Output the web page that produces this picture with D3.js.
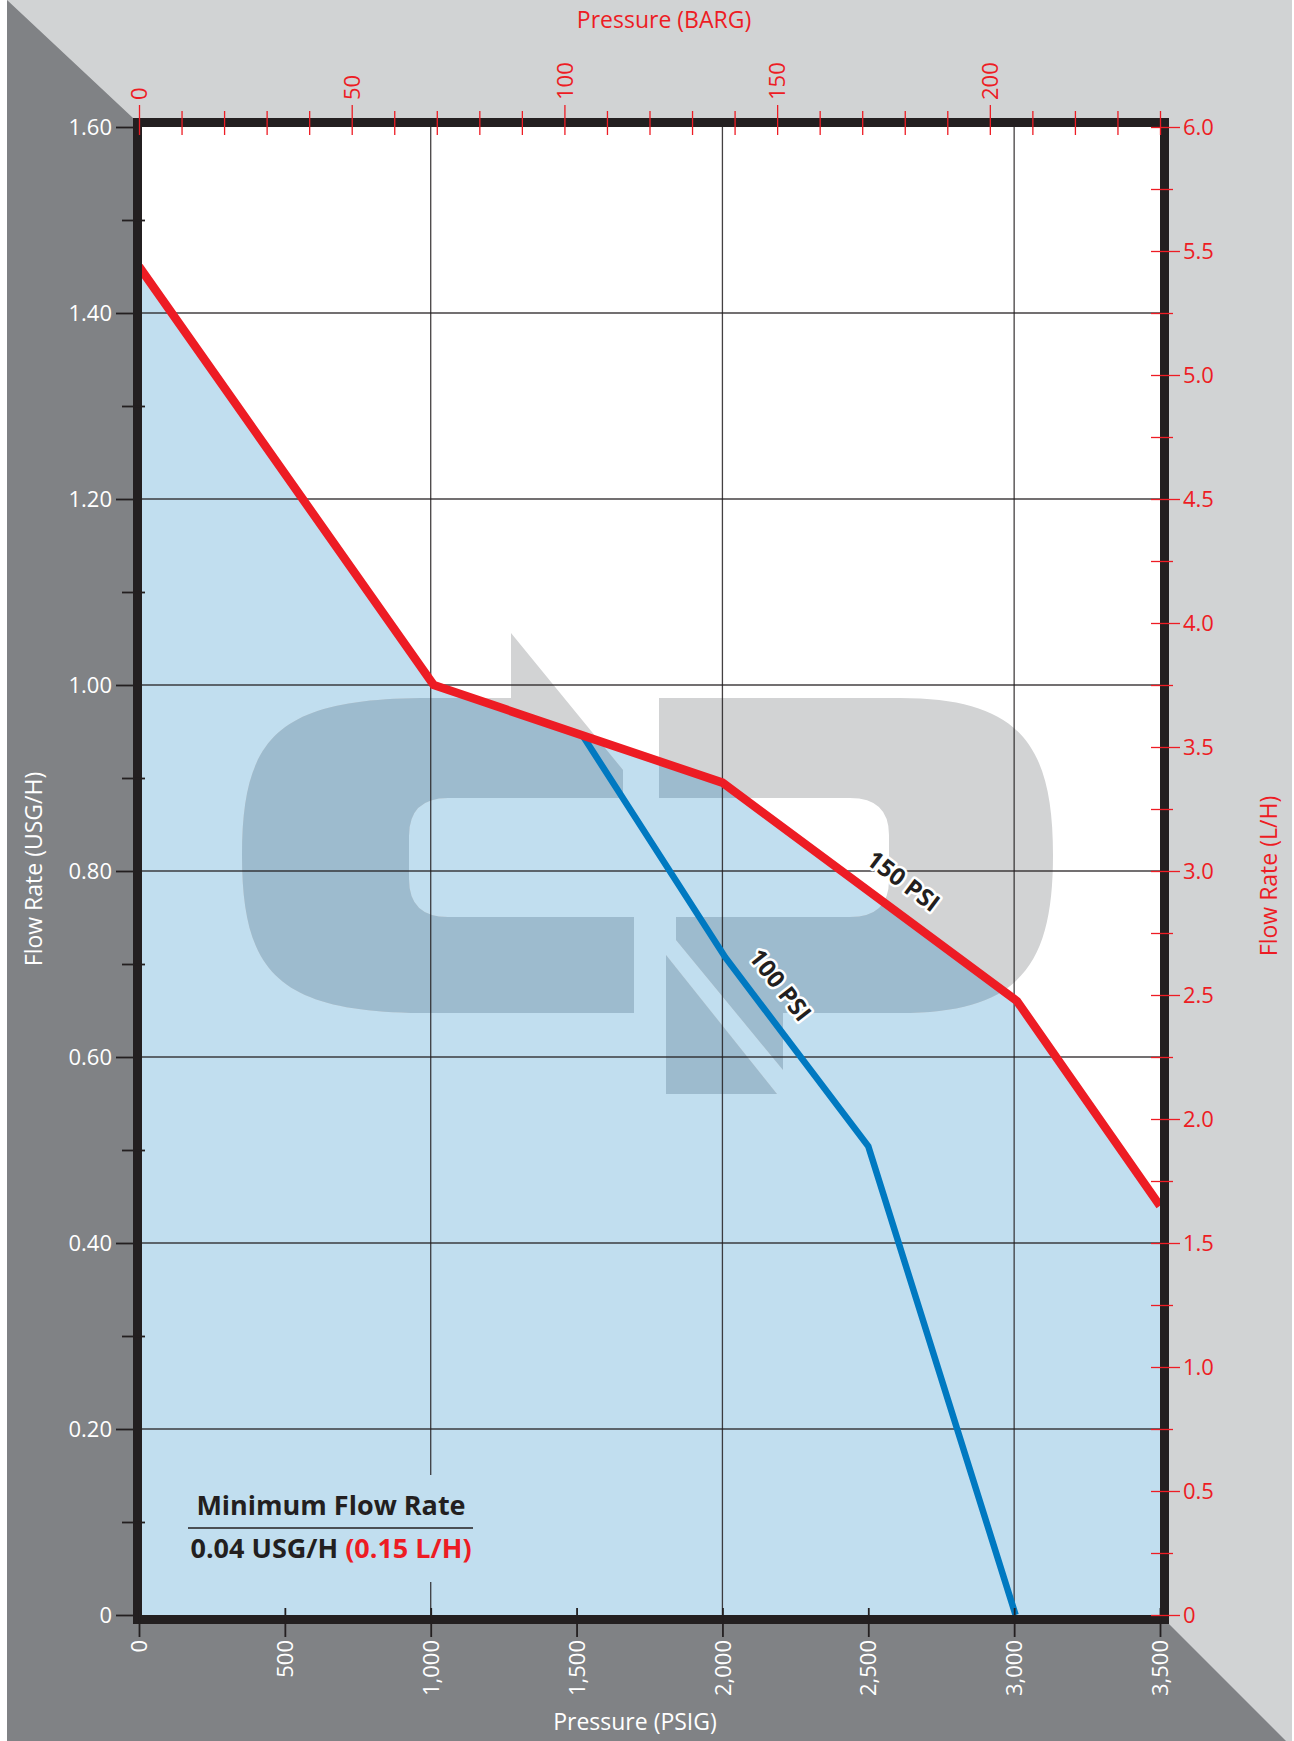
<!DOCTYPE html>
<html>
<head>
<meta charset="utf-8">
<script src="https://cdn.jsdelivr.net/npm/d3@7"></script>
<style>
  body { margin: 0; background: #fff; }
  svg { display: block; font-family: 'Open Sans', sans-serif; }
</style>
</head>
<body>
<div id="chart"></div>
<script>
// flow curves, pressure in PSIG and flow in USG/H
const psi150 = [0, 1010, 2000, 3010, 3500];
const flow150 = [1.45, 1.0, 0.895, 0.66, 0.44];
const psi100 = [0, 1010, 1520, 2010, 2500, 3005];
const flow100 = [1.45, 1.0, 0.946, 0.707, 0.504, 0];

const psiTicks = [0, 500, 1000, 1500, 2000, 2500, 3000, 3500];
const psiGrid = [1000, 2000, 3000];
const usgTicks = [0, 0.2, 0.4, 0.6, 0.8, 1.0, 1.2, 1.4, 1.6];
const usgGrid = [0.2, 0.4, 0.6, 0.8, 1.0, 1.2, 1.4];
const usgMinor = [0.1, 0.3, 0.5, 0.7, 0.9, 1.1, 1.3, 1.5];
const lphTicks = [0, 0.5, 1.0, 1.5, 2.0, 2.5, 3.0, 3.5, 4.0, 4.5, 5.0, 5.5, 6.0];
const lphMinor = [0.25, 0.75, 1.25, 1.75, 2.25, 2.75, 3.25, 3.75, 4.25, 4.75, 5.25, 5.75];
const bargTicks = [0, 50, 100, 150, 200];
const bargMinor = [10, 20, 30, 40, 60, 70, 80, 90, 110, 120, 130, 140, 160, 170, 180, 190, 210, 220, 230, 240];

const curveNames = ['150 PSI', '100 PSI'];
const labelPsi = [2622, 2201];
const labelFlow = [0.79, 0.678];
const labelAngle = [37, 52];

const minFlowTitle = 'Minimum Flow Rate';
const minFlowUsg = '0.04 USG/H ';
const minFlowLph = '(0.15 L/H)';

const width = 1294;
const height = 1741;
const red = '#ed1c24';
const blue = '#0079c1';
const fillBlue = '#c1deef';
const dark = '#231f20';

const x = d3.scaleLinear().domain([0, 3500]).range([139, 1160]);
const xBar = d3.scaleLinear().domain([0, 240]).range([139, 1160]);
const y = d3.scaleLinear().domain([0, 1.6]).range([1615, 127]);
const yL = d3.scaleLinear().domain([0, 6]).range([1615, 127]);

// frame outer edges
const fx0 = 133, fy0 = 118, fx1 = 1169, fy1 = 1624;

const svg = d3.select('#chart').append('svg')
  .attr('width', width)
  .attr('height', height);

// bevelled background
svg.append('rect')
  .attr('x', 7).attr('y', 0)
  .attr('width', 1285).attr('height', height)
  .attr('fill', '#d1d3d4');
svg.append('path')
  .attr('d', `M7,0L${fx0},${fy0}L${fx0},${fy1}L${fx1},${fy1}L${fx1 + height - fy1},${height}L7,${height}Z`)
  .attr('fill', '#808285');

const defs = svg.append('defs');
defs.append('clipPath').attr('id', 'plot-clip')
  .append('rect')
  .attr('x', x(0)).attr('y', y(1.6))
  .attr('width', x(3500) - x(0)).attr('height', y(0) - y(1.6));

const area = d3.area()
  .x((d, i) => x(psi150[i]))
  .y0(y(0))
  .y1(d => y(d));
defs.append('clipPath').attr('id', 'area-clip')
  .append('path').attr('d', area(flow150));

const plot = svg.append('g').attr('clip-path', 'url(#plot-clip)');
plot.append('rect')
  .attr('x', x(0)).attr('y', y(1.6))
  .attr('width', x(3500) - x(0)).attr('height', y(0) - y(1.6))
  .attr('fill', '#fff');
plot.append('path')
  .attr('d', area(flow150))
  .attr('fill', fillBlue);

// watermark logo
const logo = [
  'M511,633L623,770L623,798L448,798Q409,798 409,836L409,879Q409,917 448,917L634,917L634,1013L430,1013C280,1013 242,975 242,855C242,735 280,698 430,698L511,698Z',
  'M659,698L900,698C1020,698 1053,745 1053,855C1053,965 1020,1013 900,1013L783,1013L783,1070L676,940L676,917L850,917Q889,917 889,880L889,835Q889,798 850,798L659,798Z',
  'M666,955L777,1094L666,1094Z'
];
const logoGray = plot.append('g').attr('fill', '#d2d3d4');
logo.forEach(d => logoGray.append('path').attr('d', d));
const logoBlue = plot.append('g').attr('fill', '#9dbbce').attr('clip-path', 'url(#area-clip)');
logo.forEach(d => logoBlue.append('path').attr('d', d));

// grid
const grid = plot.append('g')
  .attr('stroke', dark)
  .attr('stroke-opacity', 0.85)
  .attr('stroke-width', 1.3);
grid.selectAll('.h')
  .data(usgGrid)
  .enter()
  .append('line')
  .attr('x1', x(0)).attr('x2', x(3500))
  .attr('y1', d => y(d)).attr('y2', d => y(d));
grid.selectAll('.v')
  .data(psiGrid)
  .enter()
  .append('line')
  .attr('x1', d => x(d)).attr('x2', d => x(d))
  .attr('y1', y(1.6)).attr('y2', y(0));

// note box covers the 1,000 gridline
plot.append('rect')
  .attr('x', 185).attr('y', 1475)
  .attr('width', 293).attr('height', 107)
  .attr('fill', fillBlue);

const line = d3.line();
plot.append('path')
  .attr('d', line(flow100.map((d, i) => [x(psi100[i]), y(d)])))
  .attr('fill', 'none')
  .attr('stroke', blue)
  .attr('stroke-width', 6.5)
  .attr('stroke-linejoin', 'miter');
plot.append('path')
  .attr('d', line(flow150.map((d, i) => [x(psi150[i]), y(d)])))
  .attr('fill', 'none')
  .attr('stroke', red)
  .attr('stroke-width', 8.5)
  .attr('stroke-linejoin', 'miter');

plot.selectAll('.curve-label')
  .data(curveNames)
  .enter()
  .append('text')
  .attr('transform', (d, i) => `translate(${x(labelPsi[i])},${y(labelFlow[i])}) rotate(${labelAngle[i]})`)
  .attr('text-anchor', 'middle')
  .attr('dominant-baseline', 'central')
  .attr('font-size', 24)
  .attr('font-weight', 700)
  .attr('fill', dark)
  .attr('stroke', '#fff')
  .attr('stroke-width', 5)
  .attr('stroke-linejoin', 'round')
  .attr('paint-order', 'stroke')
  .text(d => d);

// minimum flow note
const note = svg.append('g').attr('font-weight', 700).attr('font-size', 27).attr('text-anchor', 'middle');
note.append('text')
  .attr('x', 331).attr('y', 1515)
  .attr('fill', dark)
  .text(minFlowTitle);
note.append('line')
  .attr('x1', 188).attr('x2', 473)
  .attr('y1', 1528).attr('y2', 1528)
  .attr('stroke', dark).attr('stroke-width', 1.5);
const noteLine = note.append('text')
  .attr('x', 331).attr('y', 1558)
  .attr('fill', dark);
noteLine.append('tspan').text(minFlowUsg);
noteLine.append('tspan').attr('fill', red).text(minFlowLph);

// frame
svg.append('rect')
  .attr('x', fx0 + 4.5).attr('y', fy0 + 4.5)
  .attr('width', fx1 - fx0 - 9).attr('height', fy1 - fy0 - 9)
  .attr('fill', 'none')
  .attr('stroke', dark)
  .attr('stroke-width', 9);

const styleAxis = (g, color, textColor, w) => {
  g.attr('font-family', "'Open Sans', sans-serif").attr('font-size', 22);
  g.select('.domain').remove();
  g.selectAll('.tick line').attr('stroke', color).attr('stroke-width', w);
  g.selectAll('.tick text').attr('fill', textColor);
};

// left USG/H axis
svg.append('g')
  .attr('transform', `translate(${fx0},0)`)
  .call(d3.axisLeft(y).tickValues(usgTicks).tickSize(17).tickPadding(4)
    .tickFormat(d => d === 0 ? '0' : d3.format('.2f')(d)))
  .call(g => styleAxis(g, dark, '#fff', 1.8));
svg.append('g')
  .attr('transform', 'translate(145,0)')
  .call(d3.axisLeft(y).tickValues(usgMinor).tickSize(23).tickFormat(''))
  .call(g => styleAxis(g, dark, '#fff', 1.8));

// bottom PSIG axis
svg.append('g')
  .attr('transform', 'translate(0,1608)')
  .call(d3.axisBottom(x).tickValues(psiTicks).tickSize(29).tickFormat(d3.format(',')))
  .call(g => styleAxis(g, dark, '#fff', 1.8))
  .call(g => g.selectAll('.tick text')
    .attr('y', 0).attr('x', -32).attr('dy', '0.35em')
    .attr('transform', 'rotate(-90)')
    .attr('text-anchor', 'end'));

// top BARG axis
svg.append('g')
  .attr('transform', 'translate(0,135)')
  .call(d3.axisTop(xBar).tickValues(bargTicks).tickSize(30))
  .call(g => styleAxis(g, red, red, 1.3))
  .call(g => g.selectAll('.tick text')
    .attr('y', 0).attr('x', 35).attr('dy', '0.35em')
    .attr('transform', 'rotate(-90)')
    .attr('text-anchor', 'start'));
svg.append('g')
  .attr('transform', 'translate(0,135)')
  .call(d3.axisTop(xBar).tickValues(bargMinor).tickSize(24).tickFormat(''))
  .call(g => styleAxis(g, red, red, 1.3));

// right L/H axis
svg.append('g')
  .attr('transform', 'translate(1151,0)')
  .call(d3.axisRight(yL).tickValues(lphTicks).tickSize(29).tickPadding(3)
    .tickFormat(d => d === 0 ? '0' : d.toFixed(1)))
  .call(g => styleAxis(g, red, red, 1.3));
svg.append('g')
  .attr('transform', 'translate(1151,0)')
  .call(d3.axisRight(yL).tickValues(lphMinor).tickSize(22).tickFormat(''))
  .call(g => styleAxis(g, red, red, 1.3));

// axis titles
const titles = svg.append('g').attr('font-size', 23).attr('text-anchor', 'middle');
titles.append('text').attr('x', 664).attr('y', 28).attr('fill', red).text('Pressure (BARG)');
titles.append('text').attr('x', 635).attr('y', 1730).attr('fill', '#fff').text('Pressure (PSIG)');
titles.append('text').attr('transform', 'translate(42,869) rotate(-90)').attr('fill', '#fff').text('Flow Rate (USG/H)');
titles.append('text').attr('transform', 'translate(1277,876) rotate(-90)').attr('fill', red).text('Flow Rate (L/H)');
</script>
</body>
</html>
